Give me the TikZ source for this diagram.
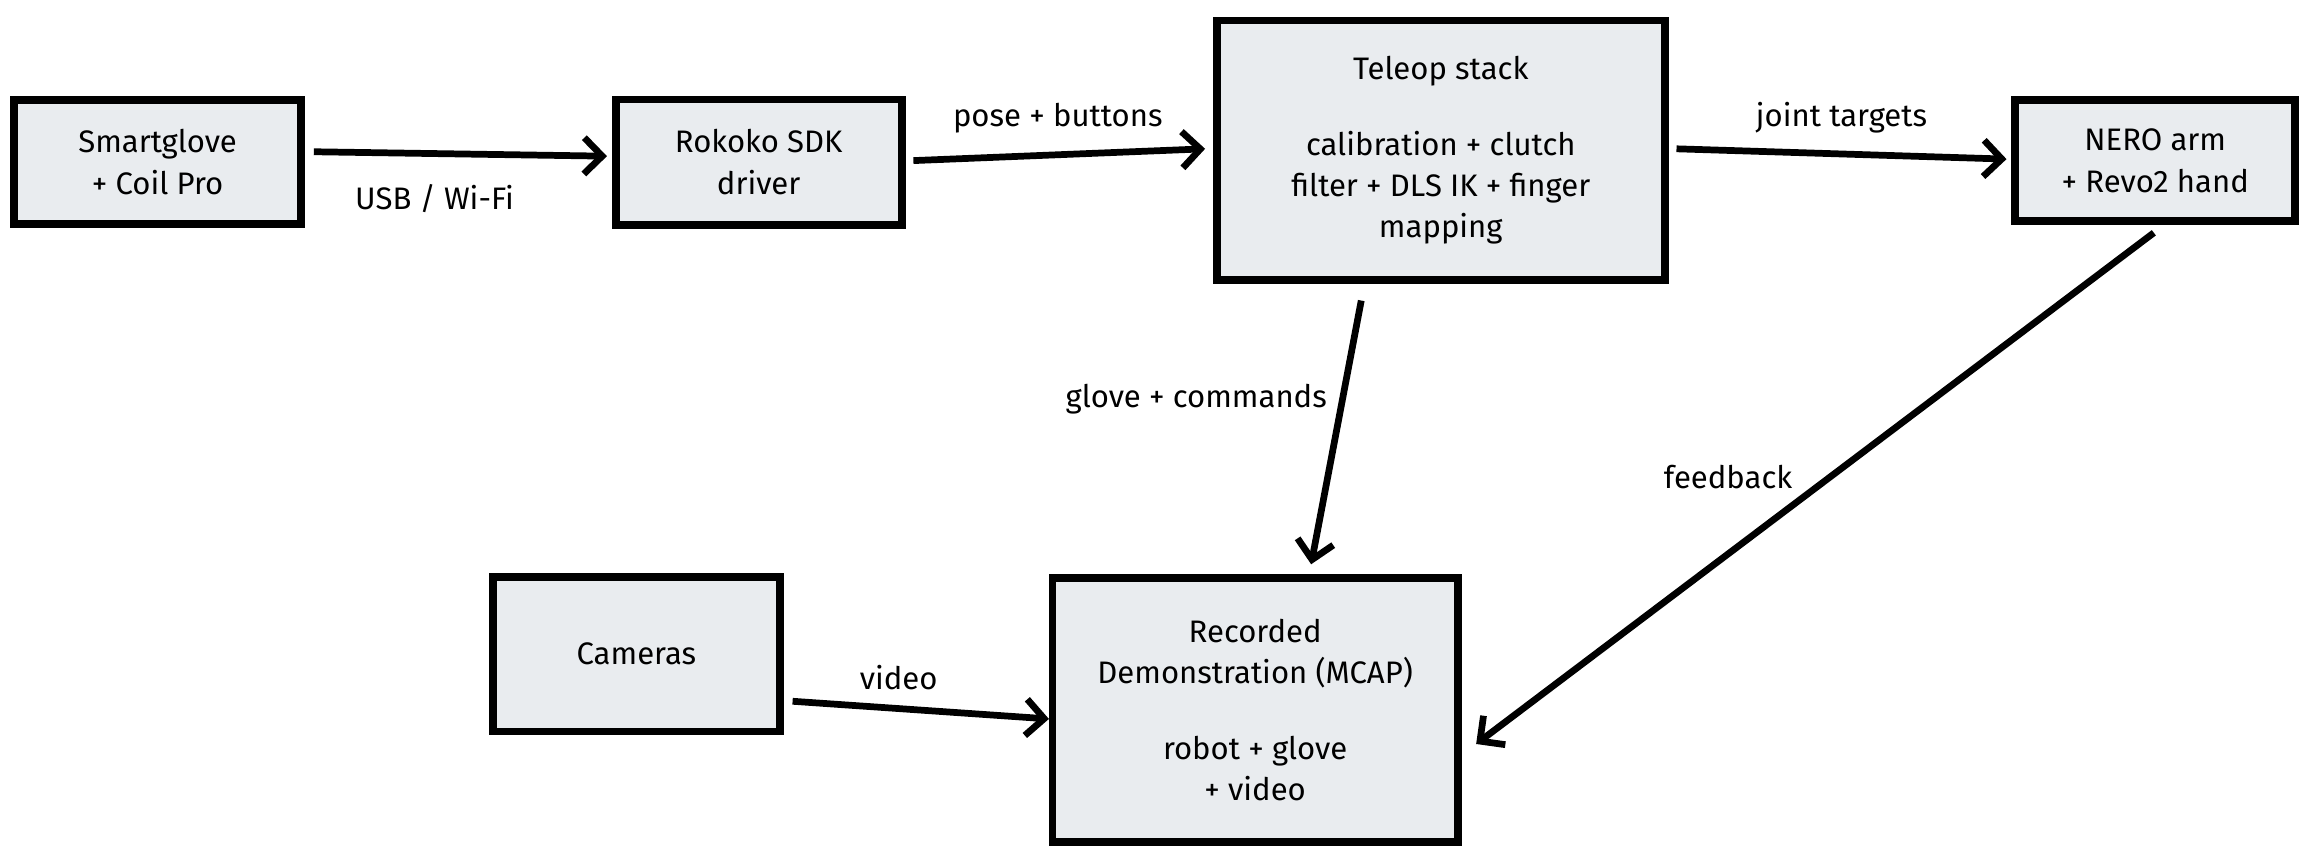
\documentclass[tikz,border=0pt]{standalone}
\usepackage{fontspec}
\setmainfont{Fira Sans}
\usetikzlibrary{arrows.meta}
\definecolor{boxfill}{HTML}{E9ECEF}
\tikzset{
  box/.style={draw=black, line width=1.5pt, fill=boxfill, align=center, font=\fontsize{6}{8}\selectfont, inner sep=0pt},
  flow/.style={-{Straight Barb[length=3.5pt,width=7pt]}, line width=1.3pt},
  lbl/.style={font=\fontsize{6}{8}\selectfont}
}
\begin{document}
\begin{tikzpicture}[x=0.01cm, y=-0.01cm]
  \useasboundingbox (0,0) rectangle (1568,584);
  % Boxes
  \node[box, minimum width=1.95cm, minimum height=0.84cm] (glove) at (107,110) {Smartglove\\+ Coil Pro};
  \node[box, minimum width=1.94cm, minimum height=0.85cm] (sdk) at (515,110) {Rokoko SDK\\driver};
  \node[box, minimum width=3.04cm, minimum height=1.76cm] (teleop) at (978,102) {Teleop stack\\[1.1em]calibration + clutch\\filter + DLS IK + finger\\mapping};
  \node[box, minimum width=1.90cm, minimum height=0.82cm] (arm) at (1463,109) {NERO arm\\+ Revo2 hand};
  \node[box, minimum width=1.95cm, minimum height=1.05cm] (cams) at (432,444) {Cameras};
  \node[box, minimum width=2.75cm, minimum height=1.79cm] (rec) at (852,482) {Recorded\\Demonstration (MCAP)\\[1.1em]robot + glove\\+ video};

  % Connector ends
  \coordinate (g1) at (213,103);  \coordinate (g2) at (412,106);
  \coordinate (s1) at (620,109);  \coordinate (s2) at (818,101);
  \coordinate (t1) at (1138,101); \coordinate (t2) at (1362,108);
  \coordinate (t3) at (924,204);  \coordinate (r1) at (890,383);
  \coordinate (a1) at (1462,158); \coordinate (r2) at (1002,505);
  \coordinate (c1) at (538,476);  \coordinate (r3) at (712,488);

  % Connectors
  \draw[flow] (g1) -- (g2);
  \draw[flow] (s1) -- (s2);
  \draw[flow] (t1) -- (t2);
  \draw[flow] (t3) -- (r1);
  \draw[flow] (a1) -- (r2);
  \draw[flow] (c1) -- (r3);

  % Labels
  \node[lbl] (l1) at (295,135) {USB / Wi-Fi};
  \node[lbl] (l2) at (718,80) {pose + buttons};
  \node[lbl] (l3) at (1250,80) {joint targets};
  \node[lbl] (l4) at (812,271) {glove + commands};
  \node[lbl] (l5) at (1173,324) {feedback};
  \node[lbl] (l6) at (610,460) {video};
\end{tikzpicture}
\end{document}
